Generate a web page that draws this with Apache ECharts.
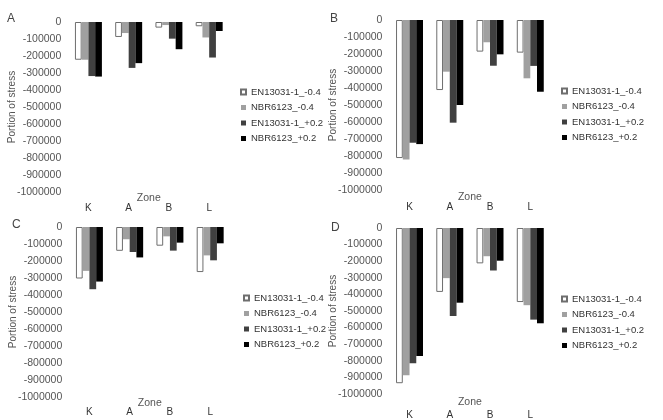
<!DOCTYPE html>
<html>
<head>
<meta charset="utf-8">
<script src="https://cdn.jsdelivr.net/npm/echarts@6/dist/echarts.min.js"></script>
<style>
  html, body { margin: 0; padding: 0; background: #fff; }
  #main { width: 663px; height: 420px; }
</style>
</head>
<body>
<div id="main"></div>
<script>
// zones on the category axis
var zones = ['K', 'A', 'B', 'L'];
var seriesNames = ['EN13031-1_-0.4', 'NBR6123_-0.4', 'EN13031-1_+0.2', 'NBR6123_+0.2'];
var panelLabels = ['A', 'B', 'C', 'D'];

// panel A
var aEn04 = [-222000, -88000, -33000, -25000];
var aNbr04 = [-222000, -65000, -18000, -91000];
var aEn02 = [-318000, -270000, -98000, -209000];
var aNbr02 = [-321000, -242000, -160000, -53000];
// panel B
var bEn04 = [-812000, -412000, -186000, -192000];
var bNbr04 = [-820000, -304000, -131000, -343000];
var bEn02 = [-722000, -604000, -269000, -270000];
var bNbr02 = [-730000, -500000, -202000, -422000];
// panel C
var cEn04 = [-303000, -140000, -110000, -265000];
var cNbr04 = [-258000, -72000, -55000, -167000];
var cEn02 = [-366000, -147000, -139000, -196000];
var cNbr02 = [-321000, -179000, -92000, -96000];
// panel D
var dEn04 = [-935000, -385000, -213000, -446000];
var dNbr04 = [-887000, -302000, -170000, -465000];
var dEn02 = [-815000, -530000, -256000, -552000];
var dNbr02 = [-771000, -450000, -197000, -574000];

var panelData = [
  [aEn04, aNbr04, aEn02, aNbr02],
  [bEn04, bNbr04, bEn02, bNbr02],
  [cEn04, cNbr04, cEn02, cNbr02],
  [dEn04, dNbr04, dEn02, dNbr02]
];

var yTicks = { min: -1000000, max: 0, interval: 100000 };

// layout of each panel (px)
var panels = [
  { left: 68.3, top: 22, title: [7, 13], legend: [240, 87], catMargin: 11, zoneGap: 1 },
  { left: 389.4, top: 20, title: [330, 13], legend: [561, 86], catMargin: 12, zoneGap: 2 },
  { left: 69.3, top: 227, title: [12, 219], legend: [243, 293], catMargin: 10, zoneGap: 1 },
  { left: 389.4, top: 228, title: [331, 222], legend: [561, 294], catMargin: 16, zoneGap: 3 }
];

var barStyles = [
  { color: '#ffffff', borderColor: '#6e6e6e', borderWidth: 1 },
  { color: '#a0a0a0' },
  { color: '#404040' },
  { color: '#000000' }
];

var title = [], grid = [], xAxis = [], yAxis = [], legend = [], series = [];

panels.forEach(function (p, i) {
  title.push({
    text: panelLabels[i],
    left: p.title[0],
    top: p.title[1],
    padding: 0,
    textStyle: { fontSize: 12, fontWeight: 'normal', color: '#444', fontFamily: 'Liberation Sans' }
  });
  grid.push({ left: p.left, top: p.top, width: 161, height: 170 });
  xAxis.push({
    type: 'category',
    gridIndex: i,
    data: zones,
    position: 'bottom',
    name: 'Zone',
    nameLocation: 'middle',
    nameGap: p.zoneGap,
    nameMoveOverlap: false,
    nameTextStyle: { fontSize: 10.5, color: '#555', fontFamily: 'Liberation Sans', verticalAlign: 'top' },
    axisLine: { show: false, onZero: false },
    axisTick: { show: false },
    axisLabel: { margin: p.catMargin, fontSize: 10, color: '#333', fontFamily: 'Liberation Sans' },
    splitLine: { show: false }
  });
  yAxis.push({
    type: 'value',
    gridIndex: i,
    min: yTicks.min,
    max: yTicks.max,
    interval: yTicks.interval,
    name: 'Portion of stress',
    nameLocation: 'middle',
    nameGap: 51,
    nameMoveOverlap: false,
    nameTextStyle: { fontSize: 10, color: '#555', fontFamily: 'Liberation Sans' },
    axisLine: { show: false },
    axisTick: { show: false },
    splitLine: { show: false },
    axisLabel: {
      margin: 7,
      fontSize: 10.5,
      color: '#555',
      fontFamily: 'Liberation Sans',
      formatter: function (v) { return String(v); }
    }
  });
  legend.push({
    orient: 'vertical',
    left: p.legend[0],
    top: p.legend[1],
    padding: 0,
    itemWidth: 5,
    itemHeight: 5,
    itemGap: 5.5,
    icon: 'rect',
    data: seriesNames,
    selectedMode: false,
    textStyle: { fontSize: 9.5, color: '#333', fontFamily: 'Liberation Sans' }
  });
  seriesNames.forEach(function (name, k) {
    series.push({
      name: name,
      type: 'bar',
      xAxisIndex: i,
      yAxisIndex: i,
      data: panelData[i][k],
      barGap: '0%',
      barCategoryGap: '33%',
      itemStyle: barStyles[k],
      animation: false
    });
  });
});

var chart = echarts.init(document.getElementById('main'));
chart.setOption({
  backgroundColor: '#fff',
  animation: false,
  title: title,
  grid: grid,
  xAxis: xAxis,
  yAxis: yAxis,
  legend: legend,
  series: series
});
</script>
</body>
</html>
